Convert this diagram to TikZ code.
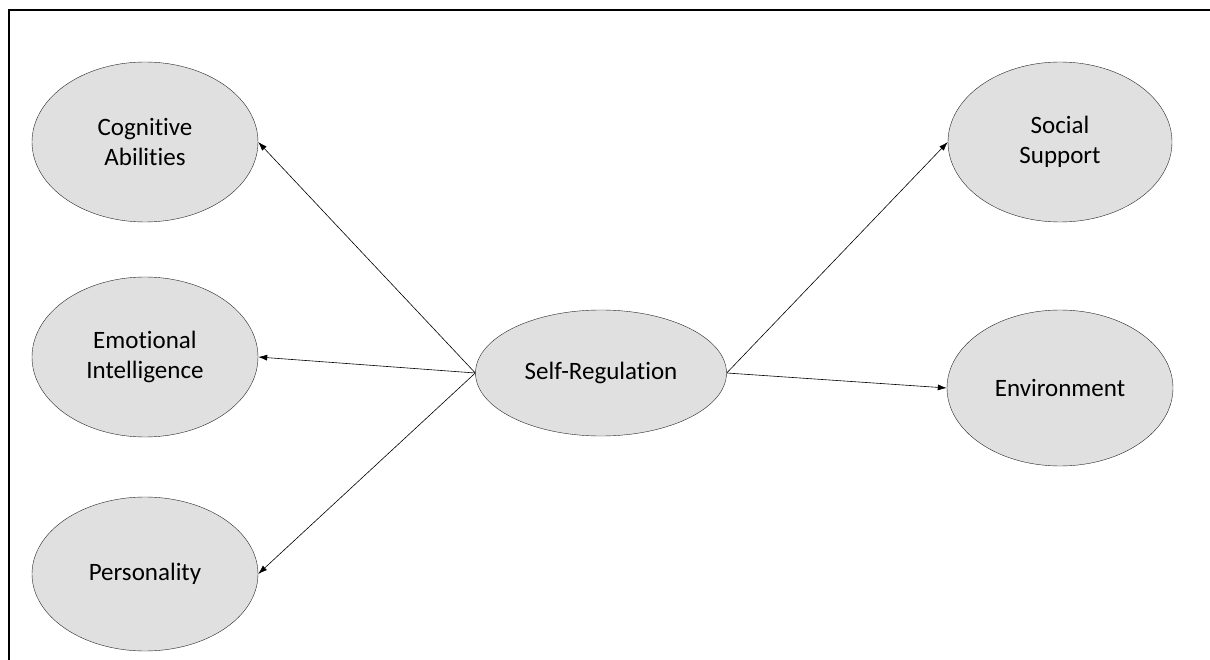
\documentclass[tikz,border=0pt]{standalone}
\usepackage{fontspec}
\setmainfont[Ligatures=NoCommon]{Carlito}
\usetikzlibrary{shapes.geometric,arrows.meta}
\definecolor{ovalfill}{RGB}{224,224,224}
\begin{document}
\begin{tikzpicture}[x=1pt,y=-1pt,
    oval/.style={ellipse, draw=black!85, fill=ovalfill, inner sep=0pt, align=center,
        font=\fontsize{25}{30}\selectfont},
    link/.style={-{Latex[length=9pt,width=6pt]}, black, line width=0.6pt}]
    \useasboundingbox (0,0) rectangle (1210,660);
    \draw[line width=1.5pt] (9,660) -- (9,10) -- (1210,10);

    % Outcome ovals on the left
    \node[oval, minimum width=226pt, minimum height=160pt] (cognitive) at (145,142) {Cognitive\\Abilities};
    \node[oval, minimum width=226pt, minimum height=160pt] (emotional) at (145,357) {Emotional\\Intelligence};
    \node[oval, minimum width=226pt, minimum height=154pt] (personality) at (145,574) {Personality};

    % Central construct
    \node[oval, minimum width=251pt, minimum height=126pt] (selfreg) at (601,373) {Self-Regulation};

    % Ovals on the right
    \node[oval, minimum width=224pt, minimum height=160pt] (social) at (1060,142) {Social\\Support};
    \node[oval, minimum width=226pt, minimum height=156pt] (environment) at (1060,388) {Environment};

    \draw[link] (selfreg.west) -- (cognitive.east);
    \draw[link] (selfreg.west) -- (emotional.east);
    \draw[link] (selfreg.west) -- (personality.east);
    \draw[link] (selfreg.east) -- (social.west);
    \draw[link] (selfreg.east) -- (environment.west);
\end{tikzpicture}
\end{document}
